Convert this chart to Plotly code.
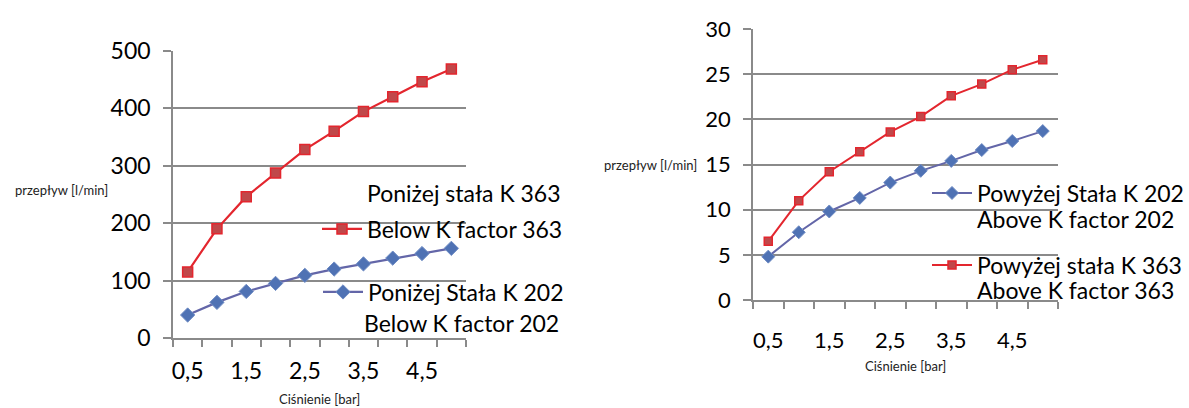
import plotly.graph_objects as go

# Pressure steps [bar] and labelled ticks
pressure = [0.5, 1.0, 1.5, 2.0, 2.5, 3.0, 3.5, 4.0, 4.5, 5.0]
pressure_tick_vals = [0.5, 1.5, 2.5, 3.5, 4.5]
pressure_tick_text = ["0,5", "1,5", "2,5", "3,5", "4,5"]

# Flow [l/min] - below (left chart)
below_k363 = [115, 190, 246, 287, 328, 360, 394, 420, 446, 468]
below_k202 = [40, 62, 81, 95, 109, 120, 129, 139, 147, 156]
left_flow_ticks = [0, 100, 200, 300, 400, 500]

# Flow [l/min] - above (right chart)
above_k202 = [4.8, 7.5, 9.8, 11.3, 13.0, 14.3, 15.4, 16.6, 17.6, 18.7]
above_k363 = [6.5, 11.0, 14.2, 16.4, 18.6, 20.3, 22.6, 23.9, 25.5, 26.6]
right_flow_ticks = [0, 5, 10, 15, 20, 25, 30]

W, H = 1189, 408
FONT = "Lato"
GRID = "#8a8a8a"
RED_LINE = "#e3262e"
RED_FILL = "#c0484a"
BLUE_LINE = "#6366a8"
BLUE_FILL = "#4f72b4"


def px_x(p):
    return p / W


def px_y(p):
    return 1 - p / H


fig = go.Figure()

# Left chart
fig.add_trace(go.Scatter(
    x=pressure, y=below_k363, mode="lines+markers", name="Below K factor 363",
    line=dict(color=RED_LINE, width=2.2),
    marker=dict(symbol="square", size=10, color=RED_FILL, line=dict(color=RED_LINE, width=1.5)),
    xaxis="x", yaxis="y", legend="legend", showlegend=True))
fig.add_trace(go.Scatter(
    x=pressure, y=below_k202, mode="lines+markers", name="Poniżej Stała K 202",
    line=dict(color=BLUE_LINE, width=2.2),
    marker=dict(symbol="diamond", size=11, color=BLUE_FILL, line=dict(color="#6f8cc4", width=1)),
    xaxis="x", yaxis="y", legend="legend2", showlegend=True))

# Right chart
fig.add_trace(go.Scatter(
    x=pressure, y=above_k202, mode="lines+markers", name="Powyżej Stała K 202",
    line=dict(color=BLUE_LINE, width=2),
    marker=dict(symbol="diamond", size=10, color=BLUE_FILL, line=dict(color="#6f8cc4", width=1)),
    xaxis="x2", yaxis="y2", legend="legend3", showlegend=True))
fig.add_trace(go.Scatter(
    x=pressure, y=above_k363, mode="lines+markers", name="Powyżej stała K 363",
    line=dict(color=RED_LINE, width=2),
    marker=dict(symbol="square", size=8, color=RED_FILL, line=dict(color=RED_LINE, width=1.5)),
    xaxis="x2", yaxis="y2", legend="legend4", showlegend=True))


def xaxis_cfg(domain, anchor, size, gap):
    return dict(
        domain=domain, anchor=anchor, range=[0.25, 5.25],
        tickmode="array", tickvals=pressure_tick_vals, ticktext=pressure_tick_text,
        ticks="outside", ticklen=gap, tickcolor="rgba(0,0,0,0)",
        showgrid=False, zeroline=False,
        showline=True, linecolor=GRID, linewidth=1.5,
        tickfont=dict(family=FONT, size=size, color="#000"),
        minor=dict(tickmode="linear", tick0=0.25, dtick=0.5, ticks="outside",
                   ticklen=7, tickcolor=GRID, tickwidth=1.5, showgrid=False),
        fixedrange=True,
    )


def yaxis_cfg(domain, anchor, rng, vals, size):
    return dict(
        domain=domain, anchor=anchor, range=rng,
        tickmode="array", tickvals=vals,
        ticks="outside", ticklen=8, tickcolor=GRID, tickwidth=1.5,
        showgrid=True, gridcolor=GRID, gridwidth=1.5, zeroline=False,
        showline=True, linecolor=GRID, linewidth=1.5,
        tickfont=dict(family=FONT, size=size, color="#000"),
        ticklabelstandoff=8,
        fixedrange=True,
    )


LEG_SIZE = 23


def legend_cfg(text_left, y_center):
    return dict(
        x=px_x(text_left - 48), y=px_y(y_center), xanchor="left", yanchor="middle",
        bgcolor="rgba(0,0,0,0)", borderwidth=0,
        font=dict(family=FONT, size=LEG_SIZE, color="#000"),
        itemwidth=40, tracegroupgap=0,
    )


LEG = dict(family=FONT, size=LEG_SIZE, color="#000")
SMALL = dict(family=FONT, size=13, color="#222")

fig.update_layout(
    width=W, height=H, autosize=False,
    margin=dict(l=0, r=0, t=0, b=0, autoexpand=False),
    paper_bgcolor="white", plot_bgcolor="white",
    showlegend=True,
    xaxis=xaxis_cfg([px_x(173), px_x(466)], "y", 23, 12),
    yaxis=yaxis_cfg([px_y(338), px_y(50.7)], "x", [0, 500], left_flow_ticks, 23),
    xaxis2=xaxis_cfg([px_x(753), px_x(1058)], "y2", 22, 20),
    yaxis2=yaxis_cfg([px_y(300), px_y(29)], "x2", [0, 30], right_flow_ticks, 22),
    legend=legend_cfg(365, 229),
    legend2=legend_cfg(366, 292),
    legend3=legend_cfg(975, 193),
    legend4=legend_cfg(975, 265),
    annotations=[
        dict(text="Poniżej stała K 363", x=px_x(365), y=px_y(193), xref="paper", yref="paper",
             xanchor="left", yanchor="middle", showarrow=False, font=LEG),
        dict(text="Below K factor 202", x=px_x(362), y=px_y(323), xref="paper", yref="paper",
             xanchor="left", yanchor="middle", showarrow=False, font=LEG),
        dict(text="Above K factor 202", x=px_x(975), y=px_y(219), xref="paper", yref="paper",
             xanchor="left", yanchor="middle", showarrow=False, font=LEG),
        dict(text="Above K factor 363", x=px_x(975), y=px_y(290), xref="paper", yref="paper",
             xanchor="left", yanchor="middle", showarrow=False, font=LEG),
        dict(text="przepływ [l/min]", x=px_x(61), y=px_y(190), xref="paper", yref="paper",
             xanchor="center", yanchor="middle", showarrow=False, font=SMALL),
        dict(text="przepływ [l/min]", x=px_x(650), y=px_y(165), xref="paper", yref="paper",
             xanchor="center", yanchor="middle", showarrow=False, font=SMALL),
        dict(text="Ciśnienie [bar]", x=0.5, y=px_y(399), xref="x domain", yref="paper",
             xanchor="center", yanchor="middle", showarrow=False, font=SMALL),
        dict(text="Ciśnienie [bar]", x=0.5, y=px_y(366), xref="x2 domain", yref="paper",
             xanchor="center", yanchor="middle", showarrow=False, font=SMALL),
    ],
)

fig.write_html("out.html")
